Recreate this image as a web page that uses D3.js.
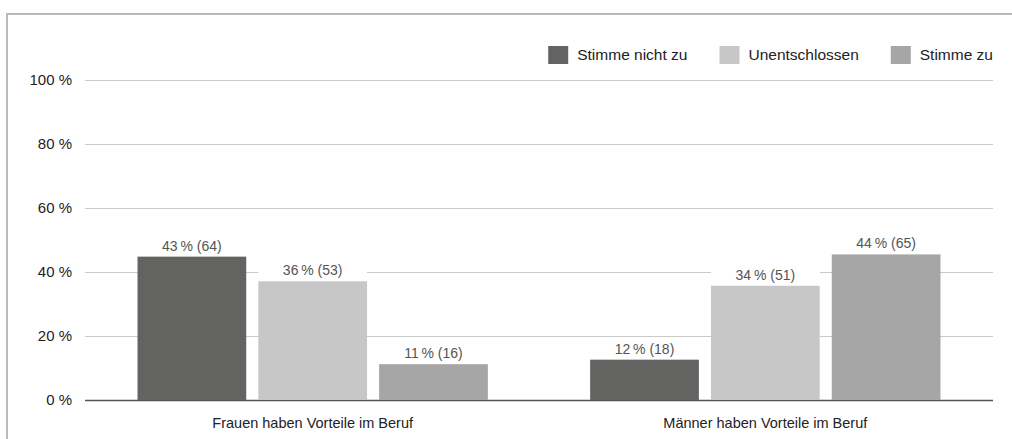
<!DOCTYPE html>
<html>
<head>
<meta charset="utf-8">
<script src="https://cdn.jsdelivr.net/npm/d3@7"></script>
<style>
  body { margin: 0; background: #fff; }
  svg { display: block; font-family: "Liberation Sans", Arial, sans-serif; }
</style>
</head>
<body>
<svg id="chart" width="1012" height="439"></svg>
<script>
var categories = ["Frauen haben Vorteile im Beruf", "Männer haben Vorteile im Beruf"];
var seriesNames = ["Stimme nicht zu", "Unentschlossen", "Stimme zu"];
var seriesColors = ["#636361", "#c6c7c6", "#a6a6a6"];
// bar heights (share of all respondents, n = 143)
var barValues = [
  [44.8, 37.1, 11.2],
  [12.6, 35.7, 45.5]
];
// printed labels
var barLabels = [
  ["43\u2009% (64)", "36\u2009% (53)", "11\u2009% (16)"],
  ["12\u2009% (18)", "34\u2009% (51)", "44\u2009% (65)"]
];
var yTicks = [0, 20, 40, 60, 80, 100];

var svg = d3.select("#chart");
var W = 1012, H = 439;
var plotLeft = 85, plotRight = 993, plotTop = 80, plotBottom = 400;

// frame
svg.append("line").attr("x1", 7).attr("x2", W).attr("y1", 14).attr("y2", 14)
  .attr("stroke", "#b9b9b9").attr("stroke-width", 2);
svg.append("line").attr("x1", 7).attr("x2", 7).attr("y1", 13).attr("y2", H)
  .attr("stroke", "#b9b9b9").attr("stroke-width", 2);

var y = d3.scaleLinear().domain([0, 100]).range([plotBottom, plotTop]);
var x0 = d3.scaleBand().domain(categories).range([plotLeft, plotRight])
  .paddingInner(0.226).paddingOuter(0.116);
var x1 = d3.scaleBand().domain(d3.range(seriesNames.length)).range([0, x0.bandwidth()])
  .paddingInner(0.1).paddingOuter(0);

// grid + y labels
var yAxis = d3.axisLeft(y).tickValues(yTicks).tickSize(-(plotRight - plotLeft))
  .tickFormat(function(d) { return d + " %"; }).tickPadding(13);
var ga = svg.append("g").attr("transform", "translate(" + plotLeft + ",0)").call(yAxis);
ga.select(".domain").remove();
ga.selectAll(".tick line").attr("stroke", function(d) { return d === 0 ? "#555" : "#c9c9c9"; })
  .attr("stroke-width", function(d) { return d === 0 ? 1.5 : 1; });
ga.selectAll(".tick text").attr("fill", "#222").style("font-size", "15px")
  .style("font-family", "'Liberation Sans', Arial, sans-serif");

// bars
var groups = svg.selectAll("g.grp").data(categories).enter().append("g")
  .attr("class", "grp")
  .attr("transform", function(d) { return "translate(" + x0(d) + ",0)"; });

groups.each(function(cat, ci) {
  var g = d3.select(this);
  var rows = barValues[ci].map(function(v, si) { return { v: v, s: si, label: barLabels[ci][si] }; });
  // white label boxes that cut the grid
  g.selectAll("rect.lbl").data(rows).enter().append("rect")
    .attr("x", function(d) { return x1(d.s); })
    .attr("width", x1.bandwidth())
    .attr("y", function(d) { return y(d.v) - 17; })
    .attr("height", 17)
    .attr("fill", "#fff");
  g.selectAll("rect.bar").data(rows).enter().append("rect")
    .attr("class", "bar")
    .attr("x", function(d) { return x1(d.s); })
    .attr("width", x1.bandwidth())
    .attr("y", function(d) { return y(d.v); })
    .attr("height", function(d) { return y(0) - y(d.v); })
    .attr("fill", function(d) { return seriesColors[d.s]; });
  g.selectAll("text.val").data(rows).enter().append("text")
    .attr("x", function(d) { return x1(d.s) + x1.bandwidth() / 2; })
    .attr("y", function(d) { return y(d.v) - 6; })
    .attr("text-anchor", "middle")
    .attr("fill", "#555")
    .style("font-size", "14px")
    .text(function(d) { return d.label; });
  g.append("text")
    .attr("x", x0.bandwidth() / 2)
    .attr("y", 428)
    .attr("text-anchor", "middle")
    .attr("fill", "#222")
    .style("font-size", "14.5px")
    .text(cat);
});

// legend, laid out right to left
var lg = svg.append("g");
var xr = plotRight;
for (var i = seriesNames.length - 1; i >= 0; i--) {
  var t = lg.append("text").attr("y", 60).attr("fill", "#222")
    .style("font-size", "15.5px").text(seriesNames[i]);
  var w = t.node().getComputedTextLength();
  t.attr("x", xr - w);
  lg.append("rect").attr("x", xr - w - 9 - 20).attr("y", 46).attr("width", 20).attr("height", 18)
    .attr("fill", seriesColors[i]);
  xr = xr - w - 9 - 20 - 32;
}
</script>
</body>
</html>
